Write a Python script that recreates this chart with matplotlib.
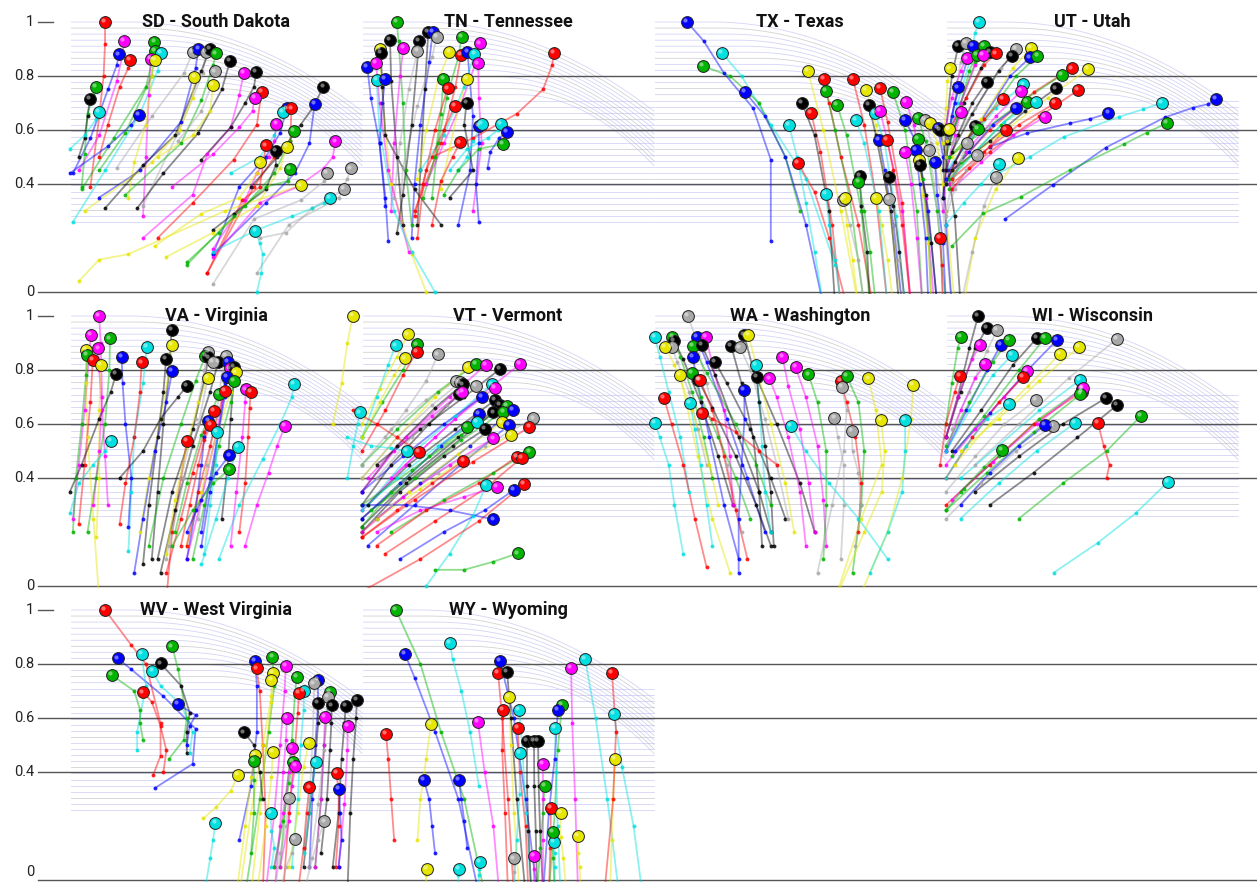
import numpy as np
import matplotlib
matplotlib.use('Agg')
import matplotlib.pyplot as plt
from matplotlib.transforms import offset_copy

# panel titles, in reading order (4 per row)
TITLES = ['SD - South Dakota', 'TN - Tennessee', 'TX - Texas', 'UT - Utah',
          'VA - Virginia', 'VT - Vermont', 'WA - Washington', 'WI - Wisconsin',
          'WV - West Virginia', 'WY - Wyoming']

Y_TICKS = [1, 0.8, 0.6, 0.4, 0]
Y_LABELS = ['1', '0.8', '0.6', '0.4', '0']

# each track: (colour code, x positions within the panel 0..1, values); last point is the big marker
SD = [
    ('r', [.07, .10, .115, .12, .12], [.39, .65, .80, .92, 1.0]),
    ('m', [.03, .10, .16, .18, .185], [.45, .58, .78, .88, .93]),
    ('b', [.01, .07, .13, .16, .168], [.44, .57, .75, .84, .88]),
    ('r', [.10, .13, .17, .20, .205], [.50, .62, .76, .83, .86]),
    ('g', [.04, .05, .06, .08, .09], [.39, .51, .66, .73, .76]),
    ('k', [.03, .05, .06, .068], [.50, .57, .65, .715]),
    ('c', [.0, .05, .09, .098], [.53, .58, .64, .667]),
    ('b', [.0, .13, .21, .237], [.44, .54, .62, .657]),
    ('g', [.04, .15, .26, .285, .289], [.38, .57, .76, .87, .925]),
    ('g', [.10, .19, .28, .29], [.45, .59, .80, .893]),
    ('c', [.01, .12, .24, .30, .31], [.26, .45, .66, .82, .886]),
    ('m', [.25, .26, .27, .276], [.28, .50, .73, .862]),
    ('y', [.20, .22, .26, .28, .29], [.35, .48, .62, .80, .86]),
    ('s', [.16, .28, .39, .42], [.46, .65, .81, .888]),
    ('b', [.10, .24, .38, .43, .44], [.35, .45, .63, .83, .90]),
    ('s', [.25, .37, .455, .465], [.32, .59, .81, .89]),
    ('k', [.12, .25, .36, .45, .48], [.31, .47, .58, .82, .90]),
    ('g', [.19, .38, .45, .49, .50], [.36, .55, .71, .84, .884]),
    ('k', [.23, .32, .44, .52, .548], [.31, .44, .59, .75, .855]),
    ('s', [.37, .45, .49, .497], [.56, .67, .78, .817]),
    ('y', [.05, .28, .375, .42, .426], [.30, .48, .60, .72, .796]),
    ('y', [.30, .42, .48, .49], [.50, .58, .67, .768]),
    ('m', [.25, .42, .47, .55, .58, .595], [.20, .36, .51, .61, .73, .812]),
    ('k', [.45, .55, .60, .63, .638], [.49, .61, .70, .76, .816]),
    ('r', [.30, .42, .56, .64, .656], [.20, .33, .49, .62, .74]),
    ('m', [.35, .49, .58, .625, .632], [.39, .51, .61, .67, .72]),
    ('b', [.49, .58, .67, .72, .742], [.14, .39, .50, .59, .68]),
    ('c', [.55, .65, .70, .728], [.44, .50, .58, .667]),
    ('r', [.47, .63, .70, .755, .758], [.07, .39, .50, .56, .68]),
    ('k', [.62, .71, .79, .83, .868], [.39, .50, .62, .68, .76]),
    ('b', [.49, .67, .77, .82, .838], [.14, .33, .44, .55, .696]),
    ('m', [.49, .60, .64, .68, .70, .707], [.16, .34, .44, .50, .56, .622]),
    ('g', [.40, .51, .60, .70, .753, .766], [.11, .22, .32, .44, .56, .598]),
    ('r', [.47, .59, .65, .671], [.07, .34, .39, .543]),
    ('k', [.49, .56, .67, .705, .705], [.23, .29, .38, .47, .522]),
    ('y', [.33, .49, .64, .72, .742], [.13, .22, .32, .46, .538]),
    ('y', [.03, .10, .20, .53, .79], [.04, .12, .14, .30, .395]),
    ('y', [.29, .45, .58, .64, .65], [.17, .29, .35, .44, .48]),
    ('g', [.40, .56, .67, .745, .753], [.10, .28, .39, .41, .457]),
    ('m', [.49, .65, .78, .87, .90, .909], [.13, .33, .39, .46, .50, .558]),
    ('s', [.49, .63, .79, .87, .88], [.03, .27, .34, .41, .44]),
    ('s', [.65, .74, .83, .925, .95, .962], [.20, .22, .31, .37, .42, .458]),
    ('s', [.64, .75, .89, .92, .938], [.07, .25, .33, .35, .381]),
    ('c', [.49, .64, .76, .83, .87, .89], [.15, .23, .28, .31, .33, .348]),
    ('c', [.64, .655, .66, .65, .635], [0.0, .07, .14, .18, .227]),
]

TN = [
    ('g', [.17, .15, .14, .125, .119], [.25, .45, .70, .93, 1.0]),
    ('k', [.14, .12, .10, .096], [.25, .50, .78, .933]),
    ('k', [.19, .20, .215, .227], [.25, .45, .75, .964]),
    ('b', [.17, .18, .20, .23, .242], [.20, .40, .62, .85, .964]),
    ('s', [.13, .14, .19, .24, .256], [.26, .46, .69, .87, .946]),
    ('k', [.12, .14, .17, .196], [.22, .36, .62, .931]),
    ('y', [.22, .17, .10, .07, .062], [.0, .14, .40, .70, .90]),
    ('k', [.27, .18, .08, .07, .064], [.25, .38, .58, .76, .886]),
    ('m', [.10, .11, .13, .142], [.30, .55, .80, .905]),
    ('s', [.11, .13, .16, .19], [.35, .55, .75, .893]),
    ('g', [.24, .26, .29, .33, .341], [.35, .55, .72, .87, .946]),
    ('m', [.22, .28, .34, .39, .404], [.40, .55, .70, .85, .921]),
    ('y', [.19, .22, .26, .299], [.42, .60, .78, .89]),
    ('r', [.18, .27, .32, .339], [.30, .55, .76, .878]),
    ('b', [.33, .37, .38, .361], [.25, .45, .65, .89]),
    ('c', [.20, .28, .35, .385], [.45, .58, .76, .881]),
    ('m', [.38, .41, .40, .398], [.30, .55, .72, .847]),
    ('r', [.24, .38, .53, .62, .651, .658], [.50, .57, .66, .75, .84, .886]),
    ('b', [.08, .06, .03, .018], [.32, .55, .72, .835]),
    ('m', [.16, .09, .06, .048], [.15, .45, .70, .849]),
    ('c', [.25, .17, .11, .06, .05], [.0, .15, .30, .60, .785]),
    ('b', [.09, .08, .06, .07, .079], [.19, .35, .55, .70, .788]),
    ('g', [.21, .25, .27, .279], [.35, .50, .66, .789]),
    ('y', [.27, .30, .33, .358], [.38, .53, .68, .789]),
    ('r', [.19, .21, .25, .293], [.20, .40, .60, .754]),
    ('r', [.18, .22, .28, .318], [.28, .45, .60, .689]),
    ('k', [.30, .38, .35, .358], [.35, .45, .62, .699]),
    ('b', [.40, .39, .40, .40], [.26, .40, .55, .615]),
    ('c', [.33, .36, .38, .412], [.45, .50, .56, .622]),
    ('c', [.30, .36, .43, .465, .476], [.45, .53, .57, .60, .622]),
    ('b', [.43, .44, .47, .495], [.46, .52, .57, .594]),
    ('g', [.28, .33, .40, .482], [.36, .45, .53, .548]),
    ('r', [.24, .27, .31, .336], [.25, .41, .50, .554]),
]

TX = [
    ('b', [.40, .40, .34, .24, .17, .113], [.19, .49, .68, .81, .93, 1.0]),
    ('c', [.62, .52, .40, .30, .233], [.10, .42, .62, .80, .885]),
    ('g', [.50, .45, .36, .26, .168], [.30, .50, .70, .80, .837]),
    ('b', [.58, .52, .45, .38, .312], [-.05, .25, .50, .65, .741]),
    ('c', [.58, .55, .52, .49, .462], [-.05, .15, .33, .50, .619]),
    ('r', [.66, .60, .55, .493], [-.05, .20, .37, .478]),
    ('y', [.70, .64, .58, .527], [-.05, .30, .60, .819]),
    ('r', [.75, .70, .64, .60, .582], [-.05, .25, .50, .70, .789]),
    ('g', [.72, .67, .62, .589], [-.05, .35, .60, .744]),
    ('r', [.80, .76, .72, .681], [-.05, .35, .62, .789]),
    ('k', [.62, .60, .55, .507], [-.05, .30, .58, .70]),
    ('r', [.64, .61, .57, .538], [-.05, .25, .52, .663]),
    ('g', [.74, .71, .66, .627], [-.05, .30, .58, .693]),
    ('y', [.85, .80, .76, .726], [-.05, .35, .62, .748]),
    ('g', [.92, .90, .86, .818], [-.05, .30, .60, .741]),
    ('r', [.88, .85, .80, .774], [-.05, .33, .63, .756]),
    ('c', [.80, .77, .72, .692], [-.05, .30, .55, .637]),
    ('k', [.84, .81, .76, .736], [-.05, .30, .58, .693]),
    ('b', [.97, .94, .90, .86], [-.05, .30, .55, .637]),
    ('m', [.96, .93, .89, .863], [-.05, .35, .62, .704]),
    ('g', [1.0, .97, .93, .904], [-.05, .30, .56, .644]),
    ('s', [1.02, .99, .95, .928], [-.05, .30, .55, .637]),
    ('y', [1.03, 1.0, .97, .945], [-.05, .30, .55, .626]),
    ('b', [1.02, 1.0, .99, .973], [-.05, .25, .50, .607]),
    ('k', [1.05, 1.03, 1.0, .979], [-.05, .28, .50, .60]),
    ('c', [.86, .83, .79, .757], [-.05, .28, .55, .663]),
    ('m', [.88, .85, .80, .774], [-.05, .30, .56, .67]),
    ('b', [.85, .82, .79, .771], [-.05, .25, .45, .563]),
    ('r', [.88, .85, .82, .798], [-.05, .25, .45, .563]),
    ('k', [.74, .73, .71, .705], [-.05, .15, .32, .43]),
    ('k', [.86, .84, .82, .805], [-.05, .15, .32, .426]),
    ('g', [.95, .94, .92, .904], [-.05, .20, .42, .567]),
    ('b', [.94, .93, .91, .897], [-.05, .20, .40, .526]),
    ('y', [.95, .94, .92, .908], [-.05, .18, .36, .489]),
    ('s', [.99, .98, .96, .942], [-.05, .20, .40, .526]),
    ('b', [1.0, .99, .97, .962], [-.05, .18, .36, .481]),
    ('c', [.64, .62, .60, .589], [-.05, .12, .25, .363]),
    ('s', [.72, .70, .67, .647], [-.05, .12, .25, .341]),
    ('y', [.70, .68, .66, .654], [-.05, .12, .25, .348]),
    ('s', [.86, .84, .82, .805], [-.05, .12, .25, .344]),
    ('y', [.82, .80, .78, .760], [-.05, .12, .25, .348]),
    ('g', [.76, .74, .72, .70], [-.05, .15, .30, .407]),
    ('m', [.92, .90, .88, .86], [-.05, .20, .40, .52]),
    ('k', [.97, .95, .93, .91], [-.05, .18, .36, .47]),
]

UT = [
    ('c', [.0, .04, .08, .10, .113], [.55, .70, .85, .96, 1.0]),
    ('k', [-.01, .0, .02, .042], [.45, .60, .80, .911]),
    ('s', [.0, .02, .05, .068], [.50, .65, .85, .923]),
    ('b', [.0, .03, .07, .091], [.55, .70, .85, .911]),
    ('g', [.01, .05, .10, .131], [.55, .70, .85, .912]),
    ('k', [.01, .06, .12, .15], [.55, .70, .83, .89]),
    ('r', [.01, .07, .13, .17], [.60, .72, .84, .884]),
    ('m', [.0, .02, .05, .071], [.62, .72, .82, .865]),
    ('g', [.0, .04, .08, .105], [.50, .65, .82, .878]),
    ('m', [.0, .05, .10, .125], [.55, .70, .84, .878]),
    ('s', [.02, .10, .19, .24], [.55, .68, .83, .899]),
    ('k', [.02, .09, .18, .225], [.52, .66, .82, .874]),
    ('y', [.02, .12, .23, .291], [.50, .64, .83, .905]),
    ('b', [.01, .10, .22, .288], [.45, .60, .80, .869]),
    ('g', [.01, .12, .24, .313], [.50, .62, .80, .874]),
    ('y', [-.01, .0, .005, .014], [.55, .68, .78, .828]),
    ('r', [.02, .15, .30, .43], [.45, .60, .74, .828]),
    ('g', [.01, .13, .28, .397], [.50, .60, .72, .804]),
    ('y', [.02, .18, .35, .487], [.45, .58, .72, .826]),
    ('b', [-.01, .0, .02, .042], [.35, .50, .65, .758]),
    ('k', [.0, .04, .09, .139], [.45, .58, .70, .777]),
    ('c', [.0, .08, .17, .265], [.45, .56, .68, .769]),
    ('m', [.01, .07, .17, .257], [.40, .52, .65, .744]),
    ('k', [.02, .15, .27, .376], [.45, .56, .67, .754]),
    ('r', [.02, .15, .32, .453], [.40, .52, .65, .748]),
    ('r', [.0, .06, .13, .196], [.40, .55, .64, .714]),
    ('g', [.01, .10, .19, .276], [.42, .52, .62, .705]),
    ('c', [.0, .10, .20, .307], [.40, .52, .63, .705]),
    ('b', [.0, .08, .16, .24], [.42, .52, .62, .683]),
    ('r', [.02, .13, .25, .373], [.42, .52, .62, .699]),
    ('m', [-.01, .0, .03, .051], [.30, .45, .58, .668]),
    ('m', [.02, .12, .23, .34], [.38, .48, .58, .649]),
    ('b', [.151, .276, .425, .493, .556], [.538, .588, .625, .641, .662]),
    ('c', [.18, .288, .404, .594, .676, .739], [.44, .501, .575, .649, .677, .701]),
    ('b', [.202, .365, .547, .75, .847, .898, .925], [.27, .396, .535, .647, .683, .696, .714]),
    ('g', [.02, .128, .257, .425, .61, .687, .756], [.17, .291, .353, .452, .548, .59, .625]),
    ('k', [-.01, .0, .005, .008], [.35, .45, .55, .60]),
    ('y', [-.01, .0, .005, .01], [.40, .50, .56, .605]),
    ('k', [.0, .03, .07, .099], [.40, .48, .56, .615]),
    ('g', [.01, .05, .08, .11], [.38, .48, .55, .605]),
    ('r', [.02, .08, .15, .205], [.38, .46, .54, .60]),
    ('s', [.0, .02, .05, .071], [.30, .40, .49, .551]),
    ('s', [.0, .03, .07, .105], [.28, .38, .45, .506]),
    ('y', [.06, .10, .17, .245], [-.05, .20, .38, .498]),
    ('c', [.0, .06, .12, .18], [.25, .33, .40, .473]),
    ('s', [.05, .09, .13, .171], [-.05, .15, .32, .427]),
    ('r', [-.01, -.015, -.02], [-.05, .10, .20]),
]

VA = [
    ('m', [.08, .10, .11, .105, .10], [.30, .50, .70, .90, 1.0]),
    ('m', [.01, .03, .05, .065, .072], [.25, .45, .65, .85, .93]),
    ('g', [.06, .09, .12, .135, .137], [.20, .40, .60, .80, .917]),
    ('y', [.10, .08, .06, .055, .054], [-.05, .25, .55, .75, .874]),
    ('g', [.01, .02, .04, .055, .059], [.20, .40, .60, .78, .856]),
    ('m', [.13, .12, .11, .10, .097], [.30, .48, .65, .80, .88]),
    ('r', [.03, .05, .07, .078], [.23, .45, .68, .836]),
    ('y', [.09, .10, .10, .106], [.18, .40, .65, .819]),
    ('c', [.20, .21, .22, .25, .263], [.13, .35, .55, .75, .886]),
    ('b', [.20, .21, .19, .18, .177], [.22, .40, .60, .75, .849]),
    ('r', [.17, .19, .22, .24, .245], [.23, .38, .55, .72, .828]),
    ('k', [.0, .04, .10, .14, .158], [.35, .45, .62, .72, .786]),
    ('k', [.28, .30, .32, .34, .348], [.10, .35, .60, .80, .949]),
    ('y', [.24, .27, .31, .34, .35], [.20, .40, .62, .80, .893]),
    ('k', [.25, .27, .30, .32, .329], [.08, .30, .55, .72, .84]),
    ('b', [.22, .25, .29, .33, .35], [.05, .25, .50, .68, .796]),
    ('k', [.17, .25, .31, .37, .40], [.40, .50, .62, .70, .741]),
    ('c', [.0, .03, .08, .12, .139], [.27, .38, .45, .50, .538]),
    ('r', [.33, .35, .38, .40], [-.05, .20, .40, .538]),
    ('s', [.33, .38, .43, .46, .474], [.10, .40, .62, .80, .868]),
    ('g', [.27, .32, .38, .43, .464], [.15, .40, .60, .76, .853]),
    ('k', [.30, .35, .42, .46, .474], [.10, .35, .58, .76, .847]),
    ('s', [.44, .47, .50, .52, .533], [.25, .45, .63, .78, .853]),
    ('k', [.31, .36, .42, .48, .508], [.05, .28, .52, .72, .831]),
    ('s', [.34, .39, .44, .47, .49], [.15, .40, .60, .76, .831]),
    ('b', [.45, .48, .51, .53, .54], [.15, .35, .58, .75, .831]),
    ('m', [.40, .45, .50, .53, .548], [.10, .32, .56, .72, .806]),
    ('k', [.52, .54, .55, .56, .562], [.25, .45, .62, .75, .812]),
    ('y', [.40, .45, .50, .55, .568], [.15, .35, .55, .72, .791]),
    ('b', [.45, .48, .51, .53, .536], [.20, .40, .58, .70, .774]),
    ('g', [.42, .46, .51, .55, .562], [.10, .30, .52, .68, .759]),
    ('y', [.33, .36, .40, .44, .471], [.12, .32, .52, .68, .772]),
    ('g', [.36, .40, .45, .49, .511], [.20, .38, .56, .66, .71]),
    ('r', [.40, .44, .48, .51, .53], [.15, .35, .52, .65, .723]),
    ('m', [.55, .57, .59, .60, .602], [.15, .35, .55, .68, .728]),
    ('r', [.58, .60, .61, .615, .619], [.20, .38, .55, .66, .72]),
    ('c', [.51, .58, .66, .72, .76, .768], [.10, .30, .47, .60, .70, .748]),
    ('m', [.60, .64, .68, .71, .736], [.15, .30, .42, .52, .593]),
    ('r', [.33, .38, .42, .46, .492], [.05, .25, .42, .57, .649]),
    ('b', [.40, .43, .45, .46, .474], [.10, .28, .45, .55, .611]),
    ('r', [.38, .41, .44, .46, .481], [.15, .30, .45, .54, .596]),
    ('c', [.46, .48, .50, .503], [.12, .30, .45, .572]),
    ('c', [.45, .50, .54, .575], [.08, .25, .40, .516]),
    ('b', [.40, .45, .50, .546], [.20, .32, .42, .484]),
    ('g', [.35, .42, .49, .546], [.15, .28, .38, .432]),
]

VT = [
    ('y', [-.10, -.07, -.05, -.032], [.60, .75, .90, 1.0]),
    ('y', [.0, .06, .12, .158], [.60, .73, .85, .932]),
    ('c', [.0, .05, .09, .115], [.55, .70, .82, .891]),
    ('g', [.0, .07, .14, .187], [.55, .68, .80, .895]),
    ('r', [.0, .08, .14, .187], [.50, .65, .78, .868]),
    ('y', [.0, .06, .11, .147], [.55, .68, .78, .843]),
    ('s', [.08, .15, .22, .261], [.55, .65, .76, .858]),
    ('y', [.0, .12, .25, .364], [.40, .55, .70, .812]),
    ('g', [.0, .12, .26, .39], [.45, .58, .72, .823]),
    ('m', [.02, .15, .30, .424], [.40, .55, .70, .819]),
    ('k', [.05, .20, .35, .473], [.45, .58, .70, .804]),
    ('m', [.10, .25, .40, .541], [.40, .55, .70, .822]),
    ('s', [.0, .10, .22, .322], [.45, .58, .69, .759]),
    ('s', [.0, .12, .24, .336], [.40, .55, .67, .754]),
    ('k', [.0, .12, .25, .345], [.35, .52, .66, .747]),
    ('s', [.05, .17, .29, .389], [.40, .55, .67, .742]),
    ('c', [.02, .16, .32, .446], [.30, .48, .63, .747]),
    ('m', [.0, .15, .32, .455], [.28, .45, .62, .735]),
    ('k', [.0, .10, .23, .331], [.30, .45, .60, .71]),
    ('m', [.0, .11, .24, .344], [.35, .50, .63, .72]),
    ('b', [.0, .14, .28, .41], [.35, .48, .60, .699]),
    ('k', [.02, .16, .32, .455], [.30, .45, .58, .688]),
    ('k', [.0, .16, .33, .473], [.25, .40, .55, .67]),
    ('g', [.0, .17, .34, .495], [.30, .43, .56, .668]),
    ('k', [.0, .15, .31, .45], [.22, .38, .52, .643]),
    ('g', [.03, .18, .34, .484], [.28, .40, .54, .646]),
    ('b', [.05, .20, .37, .518], [.25, .38, .52, .651]),
    ('c', [-.05, -.03, -.015, -.007], [.40, .52, .60, .643]),
    ('b', [.0, .13, .27, .40], [.25, .38, .52, .636]),
    ('y', [.0, .16, .33, .478], [.20, .35, .49, .606]),
    ('b', [.02, .18, .35, .503], [.15, .30, .46, .596]),
    ('s', [.10, .26, .42, .587], [.30, .42, .52, .621]),
    ('r', [.0, .18, .38, .573], [.18, .32, .46, .588]),
    ('g', [.0, .10, .23, .358], [.22, .35, .48, .588]),
    ('c', [.0, .12, .26, .393], [.28, .40, .52, .609]),
    ('k', [.0, .13, .28, .421], [.20, .35, .48, .581]),
    ('y', [.05, .20, .35, .51], [.25, .36, .47, .559]),
    ('m', [.0, .14, .30, .45], [.20, .33, .45, .547]),
    ('c', [-.05, .03, .10, .153], [.55, .52, .51, .50]),
    ('r', [-.03, .05, .12, .196], [.65, .60, .55, .498]),
    ('g', [.10, .28, .45, .573], [.20, .32, .42, .498]),
    ('r', [.0, .12, .24, .347], [.18, .28, .38, .463]),
    ('r', [.05, .22, .40, .53], [.15, .28, .38, .479]),
    ('r', [.08, .25, .42, .547], [.12, .24, .36, .475]),
    ('c', [.22, .30, .38, .425], [.0, .12, .26, .374]),
    ('m', [.05, .20, .35, .463], [.20, .28, .33, .368]),
    ('b', [.13, .28, .42, .52], [.10, .20, .28, .356]),
    ('r', [.0, .20, .40, .555], [-.02, .10, .24, .377]),
    ('b', [.0, .15, .30, .45], [.30, .30, .28, .247]),
    ('g', [.25, .35, .45, .533], [.06, .06, .09, .121]),
]

WA = [
    ('s', [.30, .25, .18, .14, .115], [.20, .45, .75, .93, 1.0]),
    ('c', [.12, .09, .05, .02, .003], [.35, .55, .72, .85, .923]),
    ('g', [.20, .17, .13, .09, .063], [.40, .55, .72, .85, .923]),
    ('k', [.27, .22, .16, .10, .068], [.30, .48, .68, .84, .909]),
    ('s', [.18, .15, .12, .08, .06], [.45, .58, .72, .83, .886]),
    ('y', [.22, .19, .13, .07, .038], [.30, .45, .65, .82, .886]),
    ('b', [.38, .32, .25, .18, .146], [.20, .40, .62, .83, .923]),
    ('m', [.27, .26, .24, .20, .178], [.30, .48, .65, .82, .923]),
    ('g', [.40, .35, .28, .18, .132], [.30, .45, .60, .79, .889]),
    ('k', [.40, .36, .29, .21, .163], [.20, .35, .55, .78, .893]),
    ('b', [.29, .24, .19, .15, .132], [.10, .30, .55, .75, .849]),
    ('k', [.45, .40, .33, .25, .209], [.25, .40, .58, .75, .831]),
    ('k', [.55, .50, .42, .34, .309], [.20, .38, .60, .80, .93]),
    ('y', [.48, .45, .40, .35, .323], [.20, .38, .60, .82, .93]),
    ('k', [.37, .36, .34, .30, .264], [.15, .35, .55, .75, .89]),
    ('s', [.46, .42, .38, .33, .295], [.25, .45, .62, .80, .884]),
    ('y', [.26, .20, .15, .11, .089], [.05, .25, .48, .68, .781]),
    ('g', [.33, .28, .22, .16, .131], [.25, .40, .55, .70, .788]),
    ('k', [.40, .35, .28, .20, .152], [.15, .30, .48, .66, .763]),
    ('r', [.32, .28, .24, .20, .158], [.10, .28, .48, .65, .763]),
    ('r', [.18, .14, .10, .06, .034], [.07, .25, .45, .60, .698]),
    ('c', [.20, .18, .16, .14, .123], [.15, .30, .45, .58, .679]),
    ('r', [.42, .36, .28, .20, .163], [.45, .50, .57, .62, .642]),
    ('c', [.40, .38, .37, .36, .349], [.20, .35, .52, .68, .819]),
    ('k', [.41, .40, .38, .36, .352], [.15, .35, .52, .68, .773]),
    ('m', [.52, .50, .46, .42, .395], [.15, .35, .55, .70, .769]),
    ('b', [.29, .29, .30, .31, .309], [.05, .25, .45, .62, .726]),
    ('m', [.55, .53, .50, .46, .44], [.20, .38, .58, .74, .849]),
    ('m', [.59, .58, .56, .52, .485], [.15, .32, .52, .70, .81]),
    ('g', [.58, .59, .59, .56, .529], [.10, .30, .50, .68, .784]),
    ('r', [.70, .71, .69, .66, .639], [.20, .38, .55, .68, .759]),
    ('g', [.68, .71, .72, .70, .66], [.05, .30, .50, .68, .778]),
    ('s', [.56, .61, .65, .66, .643], [.05, .30, .50, .65, .736]),
    ('y', [.62, .71, .78, .76, .734], [-.05, .25, .45, .65, .769]),
    ('y', [.70, .80, .85, .88, .888], [-.05, .20, .40, .62, .744]),
    ('s', [.64, .65, .65, .63, .618], [.10, .30, .45, .55, .623]),
    ('s', [.69, .71, .70, .68, .677], [.15, .30, .42, .50, .574]),
    ('y', [.62, .72, .78, .79, .777], [-.05, .20, .35, .50, .615]),
    ('c', [.74, .80, .85, .86, .86], [.05, .20, .35, .50, .615]),
    ('c', [.80, .70, .60, .52, .469], [.10, .25, .38, .50, .593]),
    ('c', [.10, .07, .05, .02, .003], [.12, .30, .45, .55, .605]),
]

WI = [
    ('k', [.0, .04, .08, .11], [.55, .70, .88, 1.0]),
    ('g', [.0, .02, .04, .051], [.60, .75, .88, .922]),
    ('k', [.0, .05, .10, .14], [.55, .72, .88, .956]),
    ('s', [.02, .08, .14, .175], [.58, .72, .87, .948]),
    ('m', [.0, .04, .09, .116], [.55, .70, .84, .893]),
    ('m', [.0, .05, .10, .134], [.50, .65, .77, .822]),
    ('r', [-.02, .0, .03, .048], [.45, .60, .72, .778]),
    ('b', [.0, .07, .14, .188], [.50, .65, .80, .893]),
    ('g', [.0, .08, .16, .216], [.52, .68, .83, .911]),
    ('k', [.02, .12, .23, .312], [.50, .65, .82, .919]),
    ('g', [.02, .13, .25, .339], [.48, .63, .80, .919]),
    ('b', [.03, .15, .28, .38], [.50, .64, .80, .911]),
    ('y', [.05, .18, .32, .455], [.50, .62, .76, .885]),
    ('s', [.10, .25, .42, .586], [.45, .60, .77, .915]),
    ('y', [.03, .15, .28, .39], [.45, .60, .74, .859]),
    ('c', [.0, .08, .16, .226], [.50, .65, .78, .856]),
    ('m', [.0, .10, .20, .277], [.45, .58, .70, .796]),
    ('r', [.0, .09, .18, .264], [.40, .55, .68, .774]),
    ('c', [.05, .18, .32, .459], [.40, .52, .65, .763]),
    ('g', [.05, .18, .32, .465], [.35, .48, .62, .73]),
    ('r', [.0, .15, .30, .465], [.30, .45, .60, .72]),
    ('m', [.02, .16, .31, .47], [.32, .46, .60, .735]),
    ('g', [.0, .14, .30, .46], [.28, .42, .57, .71]),
    ('k', [.10, .25, .40, .548], [.35, .48, .60, .696]),
    ('k', [.15, .30, .45, .586], [.30, .42, .55, .67]),
    ('g', [.25, .40, .55, .668], [.25, .38, .50, .63]),
    ('c', [.0, .07, .14, .216], [.40, .52, .62, .674]),
    ('s', [.0, .10, .20, .308], [.35, .48, .60, .689]),
    ('c', [.05, .18, .31, .442], [.25, .38, .50, .604]),
    ('s', [.0, .12, .24, .366], [.25, .38, .50, .593]),
    ('r', [.55, .56, .54, .52], [.40, .45, .52, .604]),
    ('g', [.0, .06, .13, .192], [.28, .36, .44, .504]),
    ('c', [.37, .52, .65, .76], [.05, .16, .27, .385]),
    ('b', [.05, .15, .25, .339], [.30, .42, .52, .596]),
]

WV = [
    ('r', [.285, .31, .31, .26, .21, .12], [.389, .46, .58, .80, .87, 1.0]),
    ('b', [.29, .42, .43, .32, .21, .163], [.34, .43, .56, .68, .78, .821]),
    ('c', [.23, .23, .26, .245], [.48, .55, .72, .836]),
    ('g', [.34, .39, .40, .37, .35], [.45, .52, .60, .78, .865]),
    ('k', [.40, .40, .41, .38, .31], [.47, .55, .62, .72, .802]),
    ('c', [.41, .42, .38, .31, .282], [.47, .55, .65, .72, .774]),
    ('g', [.25, .24, .24, .22, .143], [.52, .58, .63, .70, .759]),
    ('r', [.32, .33, .31, .28, .251], [.40, .48, .57, .66, .695]),
    ('b', [.40, .41, .43, .369], [.50, .57, .61, .652]),
    ('b', [.58, .62, .64, .64, .634], [.15, .35, .55, .72, .812]),
    ('r', [.66, .67, .66, .65, .639], [-.05, .25, .50, .70, .784]),
    ('g', [.60, .65, .68, .70, .693], [-.05, .30, .55, .72, .827]),
    ('y', [.58, .62, .66, .69, .696], [-.05, .25, .50, .68, .768]),
    ('y', [.62, .65, .67, .69, .69], [-.05, .25, .48, .66, .741]),
    ('m', [.67, .70, .72, .735, .739], [-.05, .25, .50, .70, .794]),
    ('g', [.72, .74, .76, .77, .776], [.05, .30, .52, .68, .751]),
    ('b', [.82, .83, .84, .85, .848], [.05, .30, .50, .66, .741]),
    ('c', [.76, .78, .79, .80, .801], [.05, .30, .50, .63, .701]),
    ('s', [.80, .82, .83, .835, .836], [.10, .30, .50, .65, .728]),
    ('r', [.73, .75, .77, .78, .785], [-.05, .25, .48, .62, .694]),
    ('g', [.84, .86, .87, .88, .89], [.05, .30, .50, .62, .696]),
    ('s', [.82, .85, .87, .88, .884], [.05, .28, .48, .60, .677]),
    ('k', [.80, .82, .84, .85, .85], [.05, .25, .45, .58, .657]),
    ('k', [.86, .88, .89, .895, .896], [.10, .30, .48, .58, .647]),
    ('k', [.90, .92, .93, .94, .944], [.05, .25, .45, .58, .644]),
    ('k', [.95, .96, .97, .98, .982], [-.05, .25, .45, .60, .667]),
    ('m', [.70, .72, .73, .74, .742], [-.05, .20, .40, .52, .599]),
    ('m', [.84, .86, .87, .873], [.05, .30, .50, .605]),
    ('m', [.92, .94, .95, .951], [.05, .28, .48, .57]),
    ('k', [.66, .65, .63, .596], [.30, .40, .50, .547]),
    ('y', [.75, .78, .80, .818], [.05, .25, .42, .507]),
    ('m', [.70, .73, .75, .761], [.05, .25, .40, .49]),
    ('y', [.57, .60, .62, .634], [-.05, .20, .38, .463]),
    ('g', [.62, .63, .63, .63], [.10, .25, .37, .441]),
    ('y', [.64, .67, .69, .694], [-.05, .20, .38, .475]),
    ('g', [.70, .73, .75, .763], [.05, .22, .36, .438]),
    ('m', [.72, .75, .76, .772], [.05, .22, .35, .422]),
    ('c', [.80, .82, .83, .842], [.10, .25, .36, .438]),
    ('y', [.457, .50, .55, .576], [.228, .27, .33, .389]),
    ('r', [.91, .92, .92, .913], [.05, .20, .32, .398]),
    ('r', [.78, .80, .81, .82], [-.05, .12, .25, .343]),
    ('b', [.92, .93, .925, .922], [.05, .15, .25, .336]),
    ('s', [.70, .72, .74, .75], [-.05, .10, .20, .304]),
    ('c', [.46, .48, .49, .498], [-.05, .08, .15, .21]),
    ('c', [.69, .70, .69, .687], [.05, .12, .18, .249]),
    ('s', [.80, .83, .85, .871], [-.05, .08, .15, .217]),
    ('s', [.72, .74, .76, .77], [-.05, .05, .10, .151]),
]

WY = [
    ('g', [.42, .35, .27, .20, .116], [-.05, .30, .55, .80, 1.0]),
    ('b', [.40, .33, .25, .18, .147], [-.05, .30, .55, .75, .837]),
    ('c', [.40, .37, .34, .31, .301], [.35, .55, .70, .82, .878]),
    ('r', [.11, .10, .09, .082], [.15, .30, .45, .541]),
    ('y', [.19, .20, .22, .236], [.15, .30, .45, .578]),
    ('b', [.25, .24, .23, .212], [.10, .20, .30, .37]),
    ('b', [.36, .35, .34, .332], [.12, .22, .30, .37]),
    ('b', [.60, .56, .52, .473], [-.05, .30, .60, .811]),
    ('r', [.52, .50, .48, .466], [-.05, .30, .60, .767]),
    ('k', [.56, .53, .51, .497], [-.05, .30, .60, .77]),
    ('y', [.54, .52, .51, .503], [-.05, .25, .50, .678]),
    ('r', [.50, .49, .48, .483], [-.05, .25, .48, .63]),
    ('m', [.47, .45, .42, .397], [-.05, .20, .40, .585]),
    ('c', [.58, .56, .55, .538], [-.05, .25, .48, .63]),
    ('r', [.57, .56, .54, .534], [-.05, .20, .40, .563]),
    ('c', [.52, .53, .54, .541], [-.05, .15, .32, .47]),
    ('k', [.58, .57, .565, .565], [-.05, .18, .35, .515]),
    ('k', [.60, .595, .59, .589], [-.05, .18, .35, .515]),
    ('k', [.62, .61, .605, .603], [-.05, .18, .35, .515]),
    ('g', [.64, .66, .67, .685], [-.05, .25, .48, .648]),
    ('b', [.62, .64, .66, .671], [-.05, .25, .45, .63]),
    ('c', [.88, .84, .80, .764], [-.05, .30, .60, .819]),
    ('m', [.74, .73, .72, .716], [-.05, .30, .58, .785]),
    ('c', [.96, .93, .89, .863], [-.05, .20, .42, .615]),
    ('y', [.85, .855, .86, .866], [-.05, .15, .30, .448]),
    ('r', [.83, .86, .87, .856], [-.05, .30, .55, .767]),
    ('c', [.68, .67, .665, .661], [-.05, .20, .40, .563]),
    ('y', [.75, .745, .74, .74], [-.05, .05, .10, .163]),
    ('c', [.66, .66, .66, .658], [-.05, .05, .10, .141]),
    ('c', [.40, .40, .40, .404], [-.05, .02, .04, .067]),
    ('c', [.33, .33, .332], [-.05, .02, .041]),
    ('y', [.22, .22, .223], [-.05, .02, .041]),
    ('g', [.66, .655, .654], [-.05, .08, .178]),
    ('r', [.64, .645, .647], [-.05, .12, .267]),
    ('m', [.62, .62, .62, .62], [-.05, .15, .30, .43]),
    ('y', [.70, .69, .68, .68], [-.05, .08, .16, .25]),
    ('g', [.60, .61, .62, .625], [-.05, .12, .25, .35]),
    ('s', [.52, .52, .52, .52], [-.05, .03, .06, .08]),
    ('m', [.59, .59, .59], [-.05, .04, .09]),
]

PANELS = [SD, TN, TX, UT, VA, VT, WA, WI, WV, WY]

COLORS = {'r': '#ff0000', 'm': '#ff00ff', 'g': '#00b400', 'c': '#00e0e0',
          'b': '#0000ff', 'k': '#000000', 's': '#a8a8a8', 'y': '#e6e600'}

# background guide curves (levels where each guide starts on the left)
BG_LEVELS = np.linspace(0.26, 1.0, 34)

W, H = 1257, 884
ROW_H = 294
fig = plt.figure(figsize=(W / 100, H / 100), dpi=100)
plt.rcParams['font.family'] = ['Roboto', 'DejaVu Sans']

X0 = -70 / 292
X1 = (W - 70) / 292
Y0 = -2 / 270
Y1 = 292 / 270

axes = []
for r in range(3):
    ax = fig.add_axes([0, (H - ROW_H * (r + 1)) / H, 1, ROW_H / H])
    ax.set_xlim(X0, X1)
    ax.set_ylim(Y0, Y1)
    ax.axis('off')
    axes.append(ax)

    # axis grid lines and labels
    gx = (38 - 70) / 292
    for v, lab in zip(Y_TICKS, Y_LABELS):
        if v == 1:
            ax.plot([gx, (53 - 70) / 292], [v, v], color='#555555', lw=1.0, zorder=2)
        else:
            ax.plot([gx, X1], [v, v], color='#555555', lw=1.0, zorder=2)
        # bottom-most zero sits on the figure edge: keep it just inside
        if r == 2 and v == 0:
            ax.text((34 - 70) / 292, 0.004, lab, ha='right', va='bottom',
                    fontsize=10.5, color='#222222')
        else:
            ax.text((34 - 70) / 292, v, lab, ha='right', va='center', fontsize=10.5,
                    color='#222222')

for i, (title, tracks) in enumerate(zip(TITLES, PANELS)):
    r, col = divmod(i, 4)
    ax = axes[r]

    # background guide curves
    xx = np.linspace(0.005, 1.0, 120)
    for j, L in enumerate(BG_LEVELS):
        yy = np.full_like(xx, L)
        if L > 0.72:
            xs = 0.2 + (1.0 - L) / 0.28 * 0.35
            ye = 0.46 + (L - 0.72) / 0.28 * 0.21
            t = np.clip((xx - xs) / (1 - xs), 0, None)
            yy = L - (L - ye) * t ** 2
        c = '#b4b4b4' if j % 5 == 2 else '#b8b8f2'
        ax.plot(col + xx, yy, color=c, lw=0.6, alpha=0.6, zorder=1)

    hl = offset_copy(ax.transData, fig=fig, x=-1.3, y=1.3, units='points')
    for code, xs, ys in tracks:
        c = COLORS[code]
        px = np.array(xs) + col
        ax.plot(px, ys, '-', color=c, alpha=0.45, lw=1.3, zorder=3)
        ax.plot(px[:-1], ys[:-1], 'o', ms=2.8, color=c, alpha=0.85, mew=0, zorder=4)
        ax.plot(px[-1], ys[-1], 'o', ms=8.5, mfc=c, mec='#222222', mew=0.7, zorder=5)
        ax.plot(px[-1], ys[-1], 'o', ms=3, color='white', alpha=0.45, mew=0,
                transform=hl, zorder=6)

    ax.text(col + 0.5, 1.0, title, ha='center', va='center', fontsize=13,
            fontweight='bold', color='#111111', zorder=7)

fig.savefig('out.png', dpi=100)
